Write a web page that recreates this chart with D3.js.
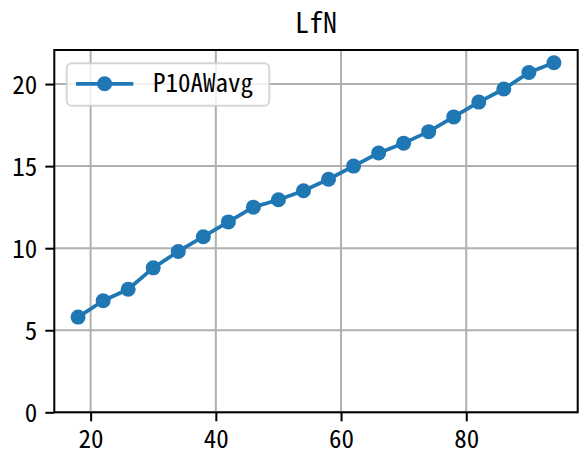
<!DOCTYPE html>
<html>
<head>
<meta charset="utf-8">
<script src="https://cdn.jsdelivr.net/npm/d3@7"></script>
<style>
  html, body { margin: 0; padding: 0; background: #fff; }
  svg { display: block; }
  .t { font-family: "Noto Sans CJK SC", "DejaVu Sans", sans-serif; font-feature-settings: "hwid"; fill: #000; }
</style>
</head>
<body>
<script>
const title = "LfN";
const seriesName = "P10AWavg";
const xValues = [18, 22, 26, 30, 34, 38, 42, 46, 50, 54, 58, 62, 66, 70, 74, 78, 82, 86, 90, 94];
const yValues = [5.8, 6.8, 7.5, 8.8, 9.8, 10.7, 11.6, 12.5, 12.95, 13.5, 14.2, 15.0, 15.8, 16.4, 17.1, 18.0, 18.9, 19.7, 20.7, 21.3];
const xTicks = [20, 40, 60, 80];
const yTicks = [0, 5, 10, 15, 20];

const W = 579, H = 454;
const L = 54.3, R = 577.7, T = 50, B = 412.3;
const blue = "#1f77b4";

const svg = d3.select("body").append("svg").attr("width", W).attr("height", H);

const xMin = d3.min(xValues), xMax = d3.max(xValues);
const xPad = (xMax - xMin) * 0.05;
const yMax = d3.max(yValues), yMinData = d3.min(yValues);
const x = d3.scaleLinear().domain([xMin - xPad, xMax + xPad]).range([L, R]);
const y = d3.scaleLinear().domain([0, yMax + (yMax - yMinData) * 0.05]).range([B, T]);

// grid
const grid = svg.append("g");
grid.selectAll("line.gx").data(xTicks).join("line")
  .attr("x1", d => x(d)).attr("x2", d => x(d)).attr("y1", T).attr("y2", B)
  .attr("stroke", "#b0b0b0").attr("stroke-width", 2);
grid.selectAll("line.gy").data(yTicks).join("line")
  .attr("x1", L).attr("x2", R).attr("y1", d => y(d)).attr("y2", d => y(d))
  .attr("stroke", "#b0b0b0").attr("stroke-width", 2);

// axes
const xAxis = d3.axisBottom(x).tickValues(xTicks).tickSize(9).tickPadding(8);
const yAxis = d3.axisLeft(y).tickValues(yTicks).tickSize(9).tickPadding(8);
const gx = svg.append("g").attr("transform", `translate(0,${B})`).call(xAxis);
const gy = svg.append("g").attr("transform", `translate(${L},0)`).call(yAxis);
[gx, gy].forEach(g => {
  g.select(".domain").remove();
  g.selectAll(".tick line").attr("stroke", "#000").attr("stroke-width", 2);
  g.selectAll(".tick text").attr("class", "t").style("font-size", "25px").attr("fill", "#000");
});
gx.selectAll(".tick text").attr("y", 17).attr("dy", "0.74em");
gy.selectAll(".tick text").attr("dy", "0.36em");

// line + markers
const line = d3.line().x((d, i) => x(xValues[i])).y(d => y(d));
svg.append("path").datum(yValues).attr("d", line)
  .attr("fill", "none").attr("stroke", blue).attr("stroke-width", 3.75).attr("stroke-linejoin", "round");
svg.selectAll("circle.pt").data(yValues).join("circle")
  .attr("cx", (d, i) => x(xValues[i])).attr("cy", d => y(d)).attr("r", 7.5).attr("fill", blue);

// spines
svg.append("rect").attr("x", L).attr("y", T).attr("width", R - L).attr("height", B - T)
  .attr("fill", "none").attr("stroke", "#000").attr("stroke-width", 2);

// title
svg.append("text").attr("class", "t").attr("x", (L + R) / 2).attr("y", 33)
  .attr("text-anchor", "middle").style("font-size", "28px").text(title);

// legend
const lg = svg.append("g");
lg.append("rect").attr("x", 66.7).attr("y", 63.3).attr("width", 202.6).attr("height", 42.4)
  .attr("rx", 5).attr("fill", "#fff").attr("fill-opacity", 0.8)
  .attr("stroke", "#cccccc").attr("stroke-opacity", 0.8).attr("stroke-width", 2);
lg.append("line").attr("x1", 76).attr("x2", 133.3).attr("y1", 83.8).attr("y2", 83.8)
  .attr("stroke", blue).attr("stroke-width", 3.75);
lg.append("circle").attr("cx", 104.6).attr("cy", 83.8).attr("r", 7.5).attr("fill", blue);
lg.append("text").attr("class", "t").attr("x", 153).attr("y", 92)
  .style("font-size", "25px").text(seriesName);
</script>
</body>
</html>
